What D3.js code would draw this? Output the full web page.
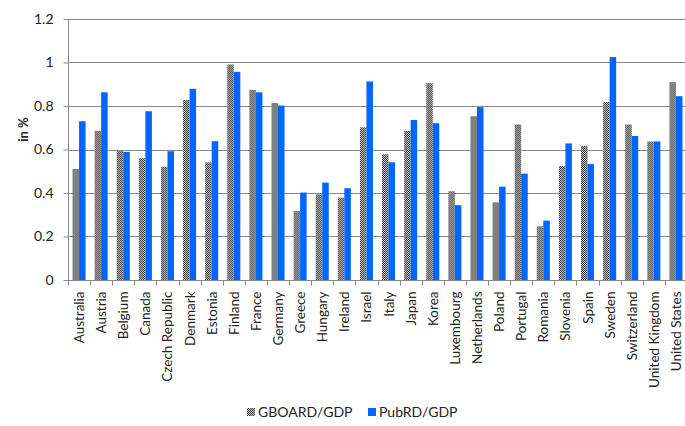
<!DOCTYPE html>
<html>
<head>
<meta charset="utf-8">
<script src="https://cdnjs.cloudflare.com/ajax/libs/d3/7.8.5/d3.min.js"></script>
<style>
  body { margin: 0; background: #fff; }
  svg { display: block; font-family: Lato, "Open Sans", sans-serif; }
</style>
</head>
<body>
<div id="chart"><svg></svg></div>
<script>
// countries on the x axis
var countries = ["Australia", "Austria", "Belgium", "Canada", "Czech Republic", "Denmark",
  "Estonia", "Finland", "France", "Germany", "Greece", "Hungary", "Ireland", "Israel",
  "Italy", "Japan", "Korea", "Luxembourg", "Netherlands", "Poland", "Portugal", "Romania",
  "Slovenia", "Spain", "Sweden", "Switzerland", "United Kingdom", "United States"];

// GBOARD as share of GDP
var gboard = [0.511, 0.686, 0.595, 0.560, 0.520, 0.828, 0.541, 0.991, 0.874, 0.814, 0.317,
  0.394, 0.379, 0.702, 0.578, 0.686, 0.905, 0.408, 0.753, 0.357, 0.715, 0.247, 0.524,
  0.616, 0.818, 0.715, 0.637, 0.910];

// public R&D as share of GDP
var pubrd = [0.730, 0.863, 0.589, 0.776, 0.592, 0.879, 0.638, 0.957, 0.863, 0.802, 0.402,
  0.448, 0.422, 0.913, 0.541, 0.736, 0.721, 0.344, 0.795, 0.429, 0.489, 0.273, 0.628,
  0.533, 1.025, 0.662, 0.637, 0.845];

var seriesNames = ["GBOARD/GDP", "PubRD/GDP"];
var yTicks = [0, 0.2, 0.4, 0.6, 0.8, 1, 1.2];

var margin = {top: 19, right: -2, bottom: 146, left: 68},
    width = 685 - margin.left - margin.right,
    height = 426 - margin.top - margin.bottom;

var blue = "#0066ff";

var svg = d3.select("#chart").select("svg")
    .attr("width", 685)
    .attr("height", 426);

// checkered fill for the gray bars
var defs = svg.append("defs");
var pat = defs.append("pattern")
    .attr("id", "checker")
    .attr("patternUnits", "userSpaceOnUse")
    .attr("width", 2)
    .attr("height", 2);
pat.append("rect").attr("width", 2).attr("height", 2).attr("fill", "#c4c4c4");
pat.append("rect").attr("width", 1).attr("height", 1).attr("fill", "#3c3c3c");
pat.append("rect").attr("x", 1).attr("y", 1).attr("width", 1).attr("height", 1).attr("fill", "#3c3c3c");

var g = svg.append("g")
    .attr("transform", "translate(" + margin.left + "," + margin.top + ")");

var x = d3.scaleBand()
    .domain(countries)
    .range([0, width])
    .paddingInner(0.41)
    .paddingOuter(0.205);

var x1 = d3.scaleBand()
    .domain(seriesNames)
    .range([0, x.bandwidth()]);

var y = d3.scaleLinear()
    .domain([0, 1.2])
    .range([height, 0]);

var step = x.step();

// gridlines
g.selectAll(".grid")
    .data(yTicks.slice(1))
    .enter().append("line")
    .attr("x1", 0)
    .attr("x2", width)
    .attr("y1", function (d) { return Math.round(y(d)) + 0.5; })
    .attr("y2", function (d) { return Math.round(y(d)) + 0.5; })
    .attr("stroke", "#8a8a8a")
    .attr("stroke-width", 1);

// bars
var groups = g.selectAll(".country")
    .data(countries)
    .enter().append("g")
    .attr("transform", function (d) { return "translate(" + x(d) + ",0)"; });

groups.append("rect")
    .attr("x", x1("GBOARD/GDP"))
    .attr("width", x1.bandwidth())
    .attr("y", function (d, i) { return y(gboard[i]); })
    .attr("height", function (d, i) { return height - y(gboard[i]); })
    .attr("fill", "url(#checker)");

groups.append("rect")
    .attr("x", x1("PubRD/GDP"))
    .attr("width", x1.bandwidth())
    .attr("y", function (d, i) { return y(pubrd[i]); })
    .attr("height", function (d, i) { return height - y(pubrd[i]); })
    .attr("fill", blue);

// y axis
var yAxis = g.append("g")
    .attr("transform", "translate(0.5,0)")
    .call(d3.axisLeft(y).tickValues(yTicks).tickSize(5).tickPadding(10)
        .tickFormat(function (d) { return d3.format("")(d); }));
yAxis.select(".domain").attr("stroke", "#8a8a8a").attr("d", "M0," + y(1.2) + "V" + height);
yAxis.selectAll(".tick line").attr("stroke", "#8a8a8a");
yAxis.selectAll("text").attr("font-size", "14px").attr("fill", "#222")
    .attr("font-family", "Lato, sans-serif");

// x axis line and boundary ticks
var xAxis = g.append("g")
    .attr("transform", "translate(0," + (Math.round(height) + 0.5) + ")");
xAxis.append("line")
    .attr("x1", 0).attr("x2", width)
    .attr("stroke", "#8a8a8a");
xAxis.selectAll(".bt")
    .data(d3.range(countries.length + 1))
    .enter().append("line")
    .attr("x1", function (i) { return Math.round(i * step) + 0.5; })
    .attr("x2", function (i) { return Math.round(i * step) + 0.5; })
    .attr("y1", 0).attr("y2", 5)
    .attr("stroke", "#8a8a8a");

xAxis.selectAll(".lbl")
    .data(countries)
    .enter().append("text")
    .attr("transform", function (d) {
        return "translate(" + (x(d) + x.bandwidth() / 2 + 5) + ",11) rotate(-90)";
    })
    .attr("text-anchor", "end")
    .attr("font-size", "13.5px")
    .attr("fill", "#222")
    .text(function (d) { return d; });

// y label
svg.append("text")
    .attr("transform", "translate(28," + (margin.top + height / 2 - 20) + ") rotate(-90)")
    .attr("text-anchor", "middle")
    .attr("font-size", "13px")
    .attr("font-weight", "bold")
    .attr("fill", "#222")
    .text("in %");

// legend
var legend = svg.append("g").attr("transform", "translate(247,413)");
var items = [
    {name: seriesNames[0], fill: "url(#checker)", x: 0},
    {name: seriesNames[1], fill: blue, x: 121}
];
var li = legend.selectAll(".li")
    .data(items)
    .enter().append("g")
    .attr("transform", function (d) { return "translate(" + d.x + ",0)"; });
li.append("rect")
    .attr("x", 0).attr("y", -5)
    .attr("width", 8).attr("height", 8)
    .attr("fill", function (d) { return d.fill; });
li.append("text")
    .attr("x", 11).attr("y", 4)
    .attr("font-size", "14px")
    .attr("fill", "#222")
    .text(function (d) { return d.name; });
</script>
</body>
</html>
